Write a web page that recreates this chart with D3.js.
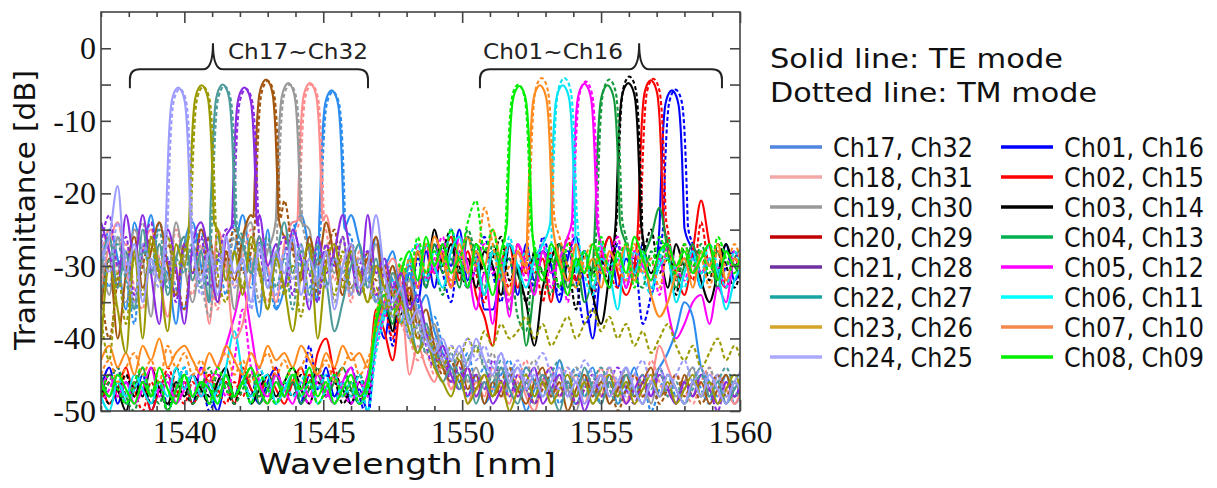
<!DOCTYPE html>
<html><head><meta charset="utf-8">
<script src="https://cdn.jsdelivr.net/npm/d3@7"></script>
<style>body{margin:0;background:#fff;} svg{display:block}</style>
</head><body>
<svg id="chart" width="1217" height="488"></svg>
<script>
// ---------------- DATA ----------------
const wavelengthGrid = [
 1537.0,1537.3,1537.6,1537.9,1538.2,1538.5,1538.8,1539.1,1539.4,1539.7,
 1540.0,1540.3,1540.6,1540.9,1541.2,1541.5,1541.8,1542.1,1542.4,1542.7,
 1543.0,1543.3,1543.6,1543.9,1544.2,1544.5,1544.8,1545.1,1545.4,1545.7,
 1546.0,1546.3,1546.6,1546.9,1547.2,1547.5,1547.8,1548.1,1548.4,1548.7,
 1549.0,1549.3,1549.6,1549.9,1550.2,1550.5,1550.8,1551.1,1551.4,1551.7,
 1552.0,1552.3,1552.6,1552.9,1553.2,1553.5,1553.8,1554.1,1554.4,1554.7,
 1555.0,1555.3,1555.6,1555.9,1556.2,1556.5,1556.8,1557.1,1557.4,1557.7,
 1558.0,1558.3,1558.6,1558.9,1559.2,1559.5,1559.8,1560.1];

// Pass-band peak shape: [nm offset from centre, dB below peak top]
const peakProfile = [[-0.45,-19],[-0.405,-14],[-0.36,-9],[-0.31,-5],[-0.26,-2.6],[-0.19,-1.2],[-0.1,-0.35],[0,0],
 [0.1,-0.35],[0.19,-1.2],[0.26,-2.6],[0.31,-5],[0.36,-9],[0.405,-14],[0.45,-19]];

const channelLabels = ["Ch17, Ch32","Ch18, Ch31","Ch19, Ch30","Ch20, Ch29","Ch21, Ch28","Ch22, Ch27","Ch23, Ch26","Ch24, Ch25",
 "Ch01, Ch16","Ch02, Ch15","Ch03, Ch14","Ch04, Ch13","Ch05, Ch12","Ch06, Ch11","Ch07, Ch10","Ch08, Ch09"];
const lineColors = ["#2b8cf0","#ff8c8c","#999999","#a3560f","#8a2be2","#4c9a9a","#9a9a00","#9c9cff",
 "#0000ff","#ff0000","#000000","#149a3c","#ff00ff","#00e5f5","#ff8a1e","#00ee00"];
const legendColors = ["#4f86e0","#f4a7a7","#999999","#c00000","#7030a0","#1aa3a3","#d4a52a","#a9a9ff",
 "#0000ff","#ff0000","#000000","#00b050","#ff00ff","#00ffff","#f5884d","#00ee00"];

const teCenter = [1545.30,1544.52,1543.74,1542.94,1542.16,1541.38,1540.62,1539.78,
 1557.55,1556.79,1555.98,1555.23,1554.40,1553.62,1552.80,1552.06];
const teTop = [-5.8,-4.8,-4.8,-4.3,-5.4,-5.0,-5.1,-5.4,-5.8,-4.4,-4.8,-5.1,-4.9,-5.1,-5.1,-5.2];
const tmCenter = [1545.35,1544.58,1543.80,1543.00,1542.22,1541.44,1540.68,1539.84,
 1557.68,1556.88,1556.02,1555.30,1554.45,1553.68,1552.86,1552.02];
const tmTop = [-6.0,-5.0,-5.0,-4.5,-5.6,-5.2,-5.3,-5.6,-5.7,-4.2,-3.9,-4.3,-4.6,-4.1,-4.1,-5.0];

// TE (solid) transmission on wavelengthGrid, dB
const te17 = [-31,-25,-29,-36,-24,-28,-23,-30,-31,-38, -27,-24,-30,-35,-26,-32,-28,-23,-30,-37,
 -25,-36,-33,-26,-23,-28,-35,-30,-30,-30, -23,-27,-32,-26,-30,-28,-33,-31,-36,-34,
 -39,-42,-44,-46,-48,-45,-49,-47,-44,-48, -46,-50,-47,-45,-48,-43,-47,-49,-46,-44,
 -48,-45,-49,-47,-44,-48,-46,-44,-42,-39, -35,-37,-44,-46,-48,-45,-49,-47];
const te18 = [-33,-27,-24,-30,-35,-28,-25,-31,-37,-29, -26,-32,-28,-38,-25,-30,-40,-38,-31,-26,
 -30,-35,-27,-24,-30,-30,-30,-23,-29,-34, -27,-32,-29,-34,-31,-29,-33,-45,-41,-44,
 -46,-43,-47,-45,-49,-46,-48,-44,-47,-49, -45,-48,-50,-46,-44,-48,-47,-45,-49,-46,
 -48,-44,-47,-49,-45,-48,-46,-41,-44,-47, -49,-46,-44,-48,-45,-47,-49,-46];
const te19 = [-28,-34,-26,-31,-25,-29,-37,-27,-32,-24, -30,-35,-28,-26,-33,-29,-36,-27,-24,-31,
 -28,-30,-30,-30,-30,-25,-33,-28,-31,-26, -34,-29,-31,-27,-33,-30,-34,-32,-37,-40,
 -38,-43,-45,-42,-46,-44,-47,-45,-48,-46, -44,-47,-49,-46,-48,-45,-47,-50,-46,-48,
 -45,-49,-47,-44,-48,-46,-49,-45,-47,-48, -46,-44,-48,-47,-45,-49,-46,-48];
const te20 = [-36,-29,-40,-31,-26,-33,-28,-24,-30,-34, -27,-31,-25,-29,-35,-28,-32,-26,-23,-30,
 -30,-30,-26,-27,-32,-26,-30,-24,-29,-34, -27,-31,-29,-26,-33,-30,-35,-33,-38,-36,
 -41,-44,-46,-43,-47,-45,-49,-46,-48,-45, -47,-49,-46,-44,-48,-46,-50,-47,-45,-48,
 -46,-49,-47,-45,-48,-46,-44,-48,-47,-49, -45,-48,-46,-49,-47,-45,-48,-46];
const te21 = [-24,-28,-33,-23,-29,-23,-31,-38,-25,-30, -38,-27,-24,-29,-35,-26,-30,-30,-30,-23,
 -30,-27,-33,-25,-29,-36,-26,-31,-28,-23, -29,-34,-23,-31,-29,-33,-31,-36,-34,-39,
 -43,-41,-45,-47,-44,-48,-46,-49,-47,-45, -48,-46,-44,-49,-47,-45,-48,-46,-50,-47,
 -45,-48,-46,-49,-47,-45,-48,-44,-47,-49, -46,-48,-45,-47,-49,-46,-48,-45];
const te22 = [-30,-26,-33,-28,-36,-25,-31,-27,-34,-29, -26,-32,-28,-35,-30,-30,-30,-27,-31,-26,
 -33,-29,-24,-31,-27,-34,-29,-32,-39,-35, -30,-27,-33,-29,-36,-31,-34,-37,-42,-38,
 -43,-46,-44,-47,-45,-49,-46,-48,-44,-47, -49,-46,-48,-45,-47,-50,-46,-48,-44,-47,
 -49,-46,-48,-45,-47,-49,-46,-48,-45,-47, -49,-46,-44,-48,-46,-49,-47,-45];
const te23 = [-41,-30,-36,-42,-28,-40,-26,-31,-39,-27, -30,-30,-30,-30,-25,-32,-28,-34,-26,-30,
 -36,-29,-33,-39,-31,-27,-40,-30,-27,-33, -28,-31,-35,-30,-33,-37,-35,-39,-42,-40,
 -44,-46,-48,-45,-49,-47,-45,-48,-46,-50, -47,-45,-48,-46,-49,-47,-45,-48,-46,-49,
 -47,-45,-48,-46,-49,-47,-45,-48,-46,-49, -47,-45,-48,-46,-49,-47,-45,-48];
const te24 = [-29,-26,-19,-31,-27,-35,-29,-32,-30,-30, -30,-27,-32,-28,-34,-26,-31,-29,-35,-27,
 -33,-28,-31,-26,-34,-29,-32,-28,-36,-30, -27,-33,-30,-23,-31,-35,-33,-38,-36,-40,
 -42,-40,-43,-41,-44,-40,-43,-45,-42,-46, -44,-47,-45,-48,-46,-44,-48,-46,-49,-47,
 -45,-48,-46,-44,-47,-49,-46,-48,-45,-47, -49,-46,-48,-45,-47,-49,-46,-48];
const te01 = [-47,-44,-49,-46,-48,-45,-50,-47,-45,-48, -46,-49,-44,-47,-50,-46,-48,-45,-47,-49,
 -46,-44,-48,-46,-49,-45,-47,-44,-48,-46, -49,-47,-50,-37,-40,-34,-38,-31,-35,-28,
 -33,-27,-30,-25,-32,-28,-36,-36,-31,-29, -34,-27,-32,-28,-30,-35,-29,-26,-33,-40,
 -30,-26,-33,-29,-31,-27,-34,-30,-30,-30, -30,-28,-33,-29,-31,-27,-32,-29];
const te02 = [-46,-49,-47,-44,-48,-46,-50,-47,-45,-48, -46,-49,-47,-45,-48,-46,-49,-44,-47,-48,
 -45,-47,-49,-46,-44,-47,-42,-40,-45,-48, -46,-49,-47,-36,-39,-43,-34,-30,-33,-27,
 -31,-29,-26,-32,-28,-34,-37,-41,-30,-27, -33,-28,-31,-29,-35,-27,-30,-32,-28,-33,
 -29,-26,-31,-34,-30,-30,-30,-30,-27,-31, -34,-28,-21,-27,-31,-33,-29,-31];
const te03 = [-48,-45,-47,-50,-46,-48,-44,-47,-49,-46, -48,-45,-47,-49,-46,-44,-48,-46,-49,-47,
 -45,-48,-46,-44,-47,-49,-46,-48,-45,-47, -49,-46,-48,-38,-34,-39,-31,-35,-28,-32,
 -25,-30,-27,-31,-29,-33,-28,-30,-34,-27, -31,-35,-41,-33,-29,-27,-32,-30,-28,-34,
 -38,-31,-30,-30,-30,-26,-31,-29,-33,-27, -30,-28,-32,-35,-31,-27,-30,-28];
const te04 = [-45,-48,-46,-49,-47,-44,-48,-46,-50,-47, -45,-48,-46,-49,-47,-45,-48,-46,-44,-49,
 -47,-45,-48,-46,-49,-47,-45,-48,-46,-44, -47,-49,-46,-39,-35,-38,-30,-34,-28,-33,
 -27,-31,-29,-33,-26,-30,-34,-28,-31,-36, -30,-41,-33,-28,-31,-27,-33,-29,-35,-30,
 -30,-30,-30,-27,-32,-29,-26,-22,-28,-33, -30,-27,-31,-29,-33,-28,-30,-32];
const te05 = [-47,-45,-48,-46,-49,-47,-44,-48,-46,-49, -47,-45,-48,-46,-44,-41,-37,-33,-39,-46,
 -48,-45,-47,-49,-46,-48,-45,-47,-49,-46, -44,-48,-45,-39,-35,-32,-36,-29,-33,-27,
 -31,-28,-33,-26,-30,-36,-31,-38,-29,-37, -27,-30,-34,-28,-31,-29,-26,-30,-30,-30,
 -27,-31,-29,-33,-28,-30,-32,-29,-36,-40, -38,-35,-34,-38,-33,-35,-29,-32];
const te06 = [-48,-50,-46,-48,-45,-47,-49,-46,-48,-44, -47,-45,-48,-46,-49,-44,-39,-45,-48,-46,
 -45,-49,-47,-45,-48,-46,-49,-47,-45,-48, -46,-49,-47,-40,-36,-33,-38,-29,-32,-27,
 -30,-33,-28,-26,-31,-29,-34,-28,-31,-27, -30,-33,-29,-27,-30,-30,-30,-31,-28,-33,
 -29,-31,-36,-27,-31,-28,-33,-30,-29,-35, -31,-28,-33,-29,-31,-36,-32,-30];
const te07 = [-43,-41,-44,-42,-45,-41,-43,-40,-44,-42, -41,-43,-45,-42,-44,-41,-43,-45,-42,-44,
 -41,-43,-42,-44,-41,-43,-45,-42,-44,-41, -43,-42,-44,-37,-33,-36,-30,-34,-28,-31,
 -26,-29,-33,-27,-31,-28,-30,-25,-30,-34, -28,-30,-30,-30,-30,-29,-32,-27,-31,-29,
 -33,-28,-30,-27,-32,-29,-34,-37,-35,-31, -29,-33,-28,-30,-27,-32,-29,-31];
const te08 = [-46,-48,-45,-47,-49,-46,-48,-44,-47,-49, -45,-48,-46,-47,-49,-45,-48,-46,-44,-47,
 -49,-46,-48,-45,-47,-44,-48,-46,-49,-47, -45,-48,-46,-38,-34,-37,-31,-28,-32,-26,
 -30,-27,-31,-29,-33,-27,-30,-34,-28,-30, -30,-30,-28,-32,-27,-30,-34,-29,-31,-27,
 -30,-33,-28,-31,-26,-29,-32,-28,-27,-30, -28,-31,-29,-27,-32,-28,-30,-29];

// TM (dotted) transmission on wavelengthGrid, dB
const tm17 = [-27,-33,-26,-30,-38,-27,-31,-24,-29,-33, -36,-28,-25,-31,-29,-34,-24,-30,-33,-27,
 -31,-36,-28,-24,-30,-33,-27,-30,-30,-30, -26,-31,-28,-35,-29,-32,-34,-30,-35,-38,
 -37,-41,-43,-45,-42,-46,-44,-47,-45,-43, -47,-44,-46,-48,-45,-49,-46,-44,-48,-46,
 -49,-45,-47,-44,-48,-46,-50,-47,-45,-48, -46,-44,-47,-49,-45,-48,-46,-44];
const tm18 = [-29,-25,-31,-27,-33,-36,-26,-29,-32,-25, -30,-34,-27,-31,-36,-28,-33,-29,-25,-31,
 -35,-28,-31,-26,-30,-30,-30,-25,-32,-29, -35,-28,-33,-30,-36,-33,-38,-40,-43,-42,
 -45,-44,-47,-43,-46,-48,-45,-47,-44,-48, -46,-43,-47,-45,-49,-46,-44,-48,-45,-47,
 -44,-48,-46,-49,-45,-47,-43,-46,-48,-45, -47,-49,-46,-44,-48,-46,-49,-47];
const tm19 = [-32,-27,-30,-35,-28,-24,-31,-29,-26,-34, -29,-27,-32,-37,-28,-31,-26,-33,-29,-35,
 -27,-31,-30,-30,-30,-28,-32,-27,-35,-30, -28,-33,-30,-35,-31,-34,-37,-35,-39,-42,
 -40,-44,-42,-45,-43,-41,-44,-42,-46,-44, -47,-45,-43,-46,-48,-45,-47,-44,-46,-49,
 -46,-44,-48,-45,-47,-49,-46,-48,-45,-47, -49,-46,-48,-44,-47,-45,-48,-46];
const tm20 = [-33,-40,-32,-28,-35,-30,-26,-32,-27,-31, -36,-28,-31,-26,-33,-29,-25,-31,-28,-30,
 -30,-30,-21,-28,-31,-27,-34,-29,-25,-32, -29,-34,-28,-32,-30,-34,-31,-35,-40,-38,
 -42,-45,-43,-46,-44,-47,-45,-48,-46,-44, -48,-46,-49,-47,-45,-48,-46,-49,-47,-45,
 -48,-46,-50,-47,-45,-48,-46,-49,-47,-45, -48,-46,-49,-47,-45,-48,-46,-49];
const tm21 = [-27,-23,-30,-26,-34,-28,-24,-31,-29,-35, -27,-31,-26,-33,-29,-25,-30,-30,-30,-27,
 -32,-29,-26,-34,-28,-31,-35,-27,-30,-26, -33,-30,-28,-34,-31,-36,-33,-38,-36,-41,
 -44,-42,-46,-44,-48,-45,-47,-43,-46,-48, -45,-47,-49,-46,-44,-48,-46,-49,-47,-45,
 -48,-46,-44,-47,-49,-46,-48,-45,-47,-49, -46,-48,-45,-47,-50,-46,-48,-45];
const tm22 = [-34,-29,-27,-32,-36,-28,-30,-25,-33,-29, -31,-27,-33,-29,-30,-30,-30,-26,-31,-28,
 -26,-33,-29,-36,-28,-31,-27,-33,-29,-31, -28,-34,-32,-35,-33,-37,-35,-40,-38,-42,
 -41,-44,-42,-45,-43,-41,-44,-46,-43,-45, -47,-44,-46,-48,-45,-43,-47,-45,-48,-46,
 -44,-47,-49,-46,-48,-45,-47,-44,-48,-46, -49,-47,-45,-48,-46,-44,-47,-49];
const tm23 = [-37,-43,-31,-38,-29,-34,-27,-31,-26,-30, -28,-30,-30,-30,-31,-35,-28,-33,-27,-31,
 -36,-28,-34,-30,-37,-29,-32,-30,-34,-28, -33,-31,-35,-33,-36,-34,-38,-36,-40,-39,
 -42,-44,-41,-43,-40,-42,-39,-41,-38,-40, -39,-37,-40,-38,-41,-39,-37,-40,-38,-36,
 -39,-37,-40,-38,-41,-39,-42,-40,-38,-41, -43,-41,-44,-42,-40,-43,-41,-44];
const tm24 = [-26,-31,-24,-29,-35,-27,-30,-33,-30,-30, -30,-30,-34,-28,-31,-26,-33,-29,-36,-28,
 -31,-34,-28,-32,-27,-35,-30,-33,-29,-31, -34,-29,-32,-35,-33,-37,-36,-40,-38,-41,
 -40,-43,-41,-42,-40,-43,-41,-44,-42,-45, -43,-46,-44,-42,-45,-47,-44,-46,-43,-45,
 -47,-44,-46,-48,-45,-43,-46,-44,-47,-45, -43,-46,-44,-47,-45,-48,-46,-44];
const tm01 = [-48,-46,-44,-49,-47,-45,-48,-46,-49,-47, -44,-48,-46,-50,-47,-45,-49,-46,-48,-44,
 -47,-45,-48,-46,-49,-41,-47,-45,-48,-46, -44,-48,-51,-39,-35,-41,-32,-36,-29,-33,
 -27,-31,-35,-28,-33,-30,-26,-31,-35,-27, -31,-29,-33,-26,-30,-34,-28,-32,-38,-36,
 -29,-31,-27,-33,-29,-38,-34,-28,-30,-30, -30,-27,-31,-29,-33,-30,-28,-32];
const tm02 = [-49,-46,-48,-45,-47,-50,-46,-48,-44,-47, -49,-46,-48,-45,-47,-49,-46,-48,-45,-47,
 -49,-44,-48,-46,-47,-45,-49,-47,-44,-48, -46,-49,-45,-39,-36,-40,-31,-35,-28,-32,
 -30,-27,-33,-29,-26,-31,-35,-28,-30,-33, -27,-31,-29,-35,-28,-30,-26,-32,-30,-34,
 -28,-31,-33,-27,-30,-30,-30,-30,-25,-31, -29,-32,-24,-30,-28,-33,-29,-31];
const tm03 = [-46,-49,-47,-45,-48,-46,-49,-47,-50,-44, -47,-49,-46,-48,-45,-47,-49,-46,-48,-45,
 -47,-49,-46,-48,-45,-47,-44,-48,-46,-49, -47,-45,-48,-40,-36,-33,-37,-29,-33,-27,
 -31,-28,-25,-30,-33,-27,-31,-29,-26,-32, -30,-35,-28,-31,-29,-33,-30,-36,-28,-31,
 -29,-33,-30,-30,-30,-28,-25,-31,-29,-34, -27,-30,-28,-32,-27,-30,-33,-29];
const tm04 = [-48,-46,-44,-48,-50,-46,-47,-49,-45,-48, -46,-49,-47,-44,-48,-46,-49,-47,-45,-48,
 -46,-49,-47,-45,-48,-46,-44,-47,-49,-46, -48,-45,-47,-40,-37,-33,-36,-29,-33,-27,
 -30,-34,-28,-31,-25,-29,-33,-27,-31,-29, -37,-39,-28,-31,-34,-27,-30,-33,-28,-31,
 -30,-30,-30,-26,-31,-33,-28,-30,-26,-32, -29,-31,-27,-30,-28,-32,-29,-27];
const tm05 = [-49,-47,-45,-48,-46,-44,-48,-47,-45,-49, -46,-48,-44,-47,-45,-48,-43,-36,-44,-47,
 -49,-46,-48,-45,-47,-49,-46,-48,-45,-47, -49,-46,-48,-41,-37,-33,-30,-34,-27,-32,
 -29,-26,-31,-28,-33,-30,-27,-31,-29,-35, -28,-32,-30,-27,-33,-29,-35,-30,-30,-30,
 -31,-29,-26,-33,-28,-31,-29,-34,-27,-30, -32,-28,-31,-29,-30,-33,-28,-30];
const tm06 = [-46,-48,-45,-49,-47,-45,-48,-46,-50,-47, -44,-48,-46,-49,-47,-45,-48,-46,-49,-44,
 -47,-49,-46,-48,-46,-44,-47,-45,-49,-46, -48,-45,-50,-42,-37,-32,-35,-29,-27,-32,
 -28,-30,-25,-29,-33,-27,-30,-28,-32,-26, -30,-28,-31,-27,-29,-30,-30,-30,-31,-34,
 -27,-30,-29,-32,-28,-31,-34,-29,-27,-31, -33,-29,-31,-27,-30,-33,-28,-31];
const tm07 = [-45,-43,-46,-44,-42,-45,-43,-46,-41,-44, -42,-45,-43,-46,-44,-42,-45,-43,-46,-44,
 -42,-45,-43,-46,-44,-42,-45,-43,-46,-44, -42,-45,-43,-39,-35,-31,-34,-29,-33,-27,
 -30,-28,-32,-29,-26,-30,-22,-27,-32,-30, -28,-31,-30,-30,-30,-26,-30,-33,-29,-27,
 -31,-28,-30,-32,-27,-31,-29,-33,-28,-30, -27,-31,-29,-33,-28,-30,-27,-31];
const tm08 = [-48,-45,-47,-49,-46,-44,-48,-46,-50,-47, -45,-48,-46,-49,-44,-47,-48,-46,-49,-45,
 -47,-49,-46,-44,-48,-46,-49,-47,-45,-48, -46,-49,-47,-37,-33,-36,-29,-32,-26,-31,
 -28,-30,-25,-29,-24,-21,-28,-25,-30,-30, -30,-30,-27,-31,-29,-33,-27,-30,-28,-32,
 -26,-31,-29,-27,-33,-28,-30,-26,-29,-31, -27,-30,-28,-31,-26,-29,-31,-27];

const teSeries = [te17,te18,te19,te20,te21,te22,te23,te24,te01,te02,te03,te04,te05,te06,te07,te08];
const tmSeries = [tm17,tm18,tm19,tm20,tm21,tm22,tm23,tm24,tm01,tm02,tm03,tm04,tm05,tm06,tm07,tm08];

const xMajorTicks = [1540,1545,1550,1555,1560];
const xMinorTicks = [1537,1538,1539,1541,1542,1543,1544,1546,1547,1548,1549,1551,1552,1553,1554,1556,1557,1558,1559];
const yLabelTicks = [0,-10,-20,-30,-40,-50];
const yAllTicks = [0,-5,-10,-15,-20,-25,-30,-35,-40,-45,-50];

// ---------------- CHART ----------------
const svg = d3.select("#chart");
const x = d3.scaleLinear().domain([1537,1560]).range([101,740]);
const y = d3.scaleLinear().domain([-50,5]).range([411,12]);

svg.append("defs").append("clipPath").attr("id","plotClip")
  .append("rect").attr("x",101).attr("y",12).attr("width",639).attr("height",399);

function buildPoints(values, center, top){
  const pts = [];
  wavelengthGrid.forEach((w,i)=>{
    if (Math.abs(w-center) >= 0.47 && values[i] !== undefined) pts.push([w, values[i]]);
  });
  peakProfile.forEach(([dw,ddb])=>pts.push([center+dw, top+ddb]));
  pts.sort((a,b)=>a[0]-b[0]);
  return pts;
}

const line = d3.line().x(d=>x(d[0])).y(d=>y(d[1])).curve(d3.curveMonotoneX);
const plot = svg.append("g").attr("clip-path","url(#plotClip)");

const order = [8,9,10,11,12,13,14,15,0,1,2,3,4,5,6,7];
order.forEach(i=>{
  plot.append("path").datum(buildPoints(tmSeries[i], tmCenter[i], tmTop[i]))
    .attr("d",line).attr("fill","none").attr("stroke",lineColors[i])
    .attr("stroke-width",2.1).attr("stroke-dasharray","4,2.5");
  plot.append("path").datum(buildPoints(teSeries[i], teCenter[i], teTop[i]))
    .attr("d",line).attr("fill","none").attr("stroke",lineColors[i])
    .attr("stroke-width",2.1);
});

// frame
svg.append("rect").attr("x",101).attr("y",12).attr("width",639).attr("height",399)
  .attr("fill","none").attr("stroke","#444").attr("stroke-width",1.6);

function tickAxis(axis, transform){
  const g = svg.append("g").attr("transform",transform).call(axis);
  g.select(".domain").remove();
  g.selectAll(".tick line").attr("stroke","#444").attr("stroke-width",1.6);
  return g;
}
tickAxis(d3.axisBottom(x).tickValues(xMajorTicks).tickSize(-11).tickFormat(""),"translate(0,411)");
tickAxis(d3.axisBottom(x).tickValues(xMinorTicks).tickSize(-5).tickFormat(""),"translate(0,411)");
tickAxis(d3.axisTop(x).tickValues(xMajorTicks).tickSize(-11).tickFormat(""),"translate(0,12)");
tickAxis(d3.axisTop(x).tickValues(xMinorTicks).tickSize(-5).tickFormat(""),"translate(0,12)");
tickAxis(d3.axisLeft(y).tickValues(yAllTicks).tickSize(-10).tickFormat(""),"translate(101,0)");
tickAxis(d3.axisRight(y).tickValues(yAllTicks).tickSize(-10).tickFormat(""),"translate(740,0)");

const xl = svg.append("g").attr("transform","translate(0,411)")
  .call(d3.axisBottom(x).tickValues(xMajorTicks).tickSize(0).tickPadding(9).tickFormat(d3.format("d")));
xl.select(".domain").remove();
xl.selectAll("text").attr("font-family","'Liberation Serif', serif").attr("font-size",32).attr("fill","#111");

const yl = svg.append("g").attr("transform","translate(101,0)")
  .call(d3.axisLeft(y).tickValues(yLabelTicks).tickSize(0).tickPadding(5).tickFormat(d=>d===0?"0":"-"+Math.abs(d)));
yl.select(".domain").remove();
yl.selectAll("text").attr("font-family","'Liberation Serif', serif").attr("font-size",32).attr("fill","#111");

// axis titles
const sans = "'DejaVu Sans', Verdana, sans-serif";
svg.append("text").attr("x",407).attr("y",474).attr("text-anchor","middle")
  .attr("font-family",sans).attr("font-size",29).attr("fill","#111")
  .attr("textLength",298).attr("lengthAdjust","spacingAndGlyphs").text("Wavelength [nm]");
svg.append("text").attr("transform","translate(35,210) rotate(-90)").attr("text-anchor","middle")
  .attr("font-family",sans).attr("font-size",29).attr("fill","#111")
  .attr("textLength",280).attr("lengthAdjust","spacingAndGlyphs").text("Transmittance [dB]");

// group braces
const braces = [
  {x0:1538.04, xc:1541.03, x1:1546.61, label:"Ch17~Ch32", lx:1541.57},
  {x0:1550.64, xc:1556.37, x1:1559.35, label:"Ch01~Ch16", lx:1550.75}
];
braces.forEach(b=>{
  const X0=x(b.x0), XC=x(b.xc), X1=x(b.x1);
  const yEnd=y(-5.5), yH=y(-2.9), yTop=y(0.7), r=10;
  const p = d3.path();
  p.moveTo(X0,yEnd); p.lineTo(X0,yH+r); p.quadraticCurveTo(X0,yH,X0+r,yH);
  p.lineTo(XC-10,yH); p.quadraticCurveTo(XC,yH,XC,yTop);
  p.quadraticCurveTo(XC,yH,XC+10,yH); p.lineTo(X1-r,yH);
  p.quadraticCurveTo(X1,yH,X1,yH+r); p.lineTo(X1,yEnd);
  svg.append("path").attr("d",p.toString()).attr("fill","none").attr("stroke","#222").attr("stroke-width",2);
  svg.append("text").attr("x",x(b.lx)).attr("y",y(-1.5)).attr("font-family",sans).attr("font-size",22)
    .attr("fill","#222").attr("textLength",140).attr("lengthAdjust","spacingAndGlyphs").text(b.label);
});

// legend
const lg = svg.append("g").attr("font-family",sans).attr("fill","#111");
lg.append("text").attr("x",770).attr("y",68).attr("font-size",27)
  .attr("textLength",293).attr("lengthAdjust","spacingAndGlyphs").text("Solid line: TE mode");
lg.append("text").attr("x",770).attr("y",102).attr("font-size",27)
  .attr("textLength",327).attr("lengthAdjust","spacingAndGlyphs").text("Dotted line: TM mode");
channelLabels.forEach((lab,i)=>{
  const col = Math.floor(i/8), row = i%8;
  const lx = col===0?770:1001, ly = 147+row*30;
  lg.append("line").attr("x1",lx).attr("x2",lx+52).attr("y1",ly).attr("y2",ly)
    .attr("stroke",legendColors[i]).attr("stroke-width",3.5);
  lg.append("text").attr("x",lx+63).attr("y",ly+10).attr("font-size",26)
    .attr("textLength",140).attr("lengthAdjust","spacingAndGlyphs").text(lab);
});
</script>
</body></html>
